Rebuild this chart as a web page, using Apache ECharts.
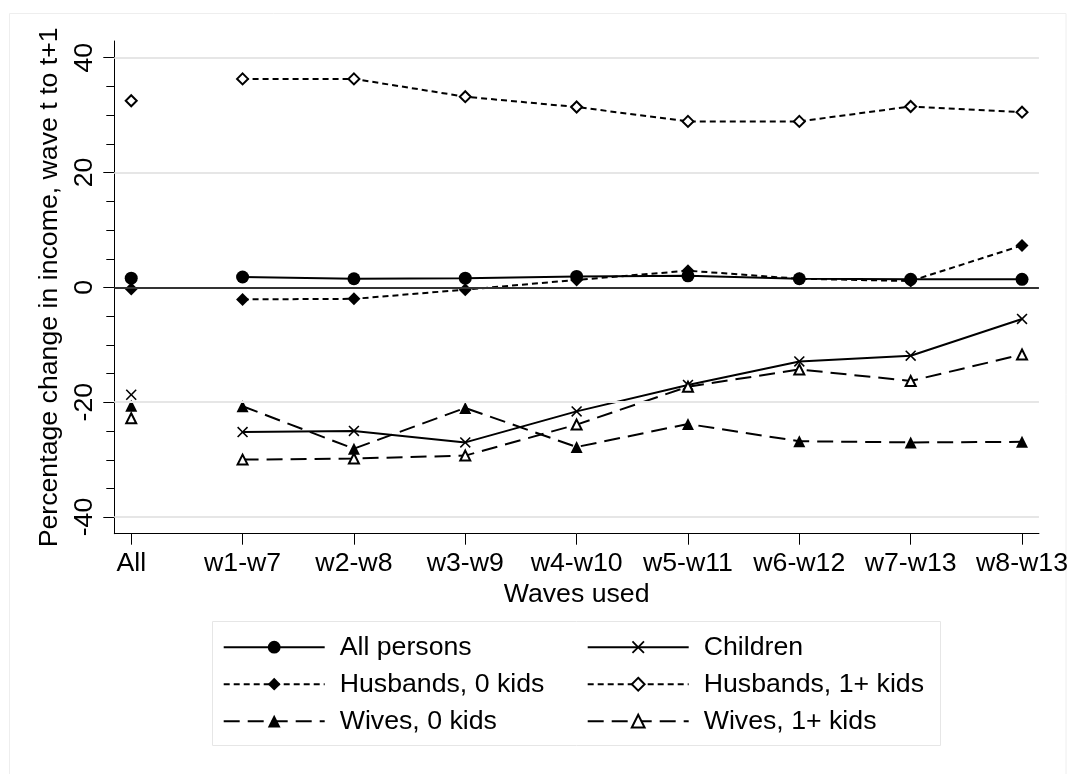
<!DOCTYPE html>
<html>
<head>
<meta charset="utf-8">
<script src="https://cdn.jsdelivr.net/npm/echarts@6/dist/echarts.min.js"></script>
<style>
html,body{margin:0;padding:0;background:#fff;}
#chart{width:1071px;height:774px;}
</style>
</head>
<body>
<div id="chart"></div>
<script>
// ---- data ----
const categories = ['All','w1-w7','w2-w8','w3-w9','w4-w10','w5-w11','w6-w12','w7-w13','w8-w13'];
const allPersons   = [1.6, 1.8, 1.5, 1.6, 1.9, 2.0, 1.5, 1.4, 1.4];
const children     = [-18.7, -25.2, -25.0, -27.0, -21.6, -17.0, -12.9, -11.9, -5.5];
const husbands0    = [-0.3, -2.1, -2.0, -0.4, 1.3, 2.9, 1.5, 1.1, 7.3];
const husbands1    = [32.5, 36.3, 36.3, 33.2, 31.4, 28.9, 28.9, 31.5, 30.5];
const wives0       = [-20.6, -20.7, -28.1, -21.0, -27.8, -23.8, -26.8, -27.0, -26.9];
const wives1       = [-22.8, -30.0, -29.8, -29.3, -23.9, -17.3, -14.3, -16.3, -11.7];
const yMajorTicks  = [-40, -20, 0, 20, 40];
const yMinorTicks  = [-35, -30, -25, -15, -10, -5, 5, 10, 15, 25, 30, 35];
const gridValues   = [-40, -20, 20, 40];
const seriesNames  = ['All persons','Children','Husbands, 0 kids','Husbands, 1+ kids','Wives, 0 kids','Wives, 1+ kids'];

const FONT = 'Liberation Sans, Arial, Helvetica, sans-serif';
const FS = 26.7;
const X_MIN = -0.152, X_MAX = 8.152;

// "All" point is shown on its own, separate from the connected waves
function toData(arr){
  const d = [[0, arr[0]], [0.5, '-']];
  for (let i = 1; i < arr.length; i++) d.push([i, arr[i]]);
  return d;
}

const crossPath = 'path://M0,1L1,0L5,4L9,0L10,1L6,5L10,9L9,10L5,6L1,10L0,9L4,5Z';

function mk(name, arr, symbol, size, dash, empty){
  return {
    name: name, type: 'line', data: toData(arr),
    symbol: symbol, symbolSize: size, showSymbol: true,
    connectNulls: false, animation: false,
    lineStyle: {color: '#000', width: 2, type: dash},
    itemStyle: empty ? {color: '#000', borderColor: '#000', borderWidth: 2} : {color: '#000', borderWidth: 0},
    emphasis: {disabled: true}
  };
}

const series = [
  mk(seriesNames[0], allPersons, 'circle', 13, 'solid', false),
  mk(seriesNames[1], children, crossPath, 11, 'solid', false),
  mk(seriesNames[2], husbands0, 'diamond', 13, [6,4], false),
  mk(seriesNames[3], husbands1, 'emptyDiamond', 11, [6,4], true),
  mk(seriesNames[4], wives0, 'triangle', 12, [16,8], false),
  mk(seriesNames[5], wives1, 'emptyTriangle', 10, [16,8], true)
];

series[0].markLine = {
  silent: true, symbol: 'none', animation: false,
  label: {show: false},
  data: gridValues.map(v => ({yAxis: v, lineStyle: {color: '#e6e6e6', width: 2, type: 'solid'}}))
        .concat([{yAxis: 0, lineStyle: {color: '#333', width: 2, type: 'solid'}}])
};
series[0].z = 1;

// minor y-axis ticks every 5, placed with the chart's own scale
series.push({
  name: 'minorTicks', type: 'custom', silent: true, animation: false, clip: false,
  data: yMinorTicks.map(v => [X_MIN, v]),
  renderItem: function(params, api){
    const p = api.coord([api.value(0), api.value(1)]);
    const y = Math.round(p[1]) + 0.5;
    return {type: 'line', shape: {x1: p[0] - 8, y1: y, x2: p[0], y2: y},
            style: {stroke: '#000', lineWidth: 1}};
  },
  z: 5
});

const chart = echarts.init(document.getElementById('chart'), null, {renderer: 'canvas'});
chart.setOption({
  backgroundColor: '#fff',
  animation: false,
  textStyle: {fontFamily: FONT},
  graphic: [
    {type: 'rect', shape: {x: 9.5, y: 13.5, width: 1056.5, height: 800}, style: {fill: 'none', stroke: '#eeeeee', lineWidth: 1}, silent: true, z: -10},
    {type: 'rect', shape: {x: 212.5, y: 621.5, width: 728, height: 124}, style: {fill: 'none', stroke: '#e6e6e6', lineWidth: 1}, silent: true, z: -10}
  ],
  grid: {left: 114.3, right: 32, top: 41, bottom: 240.3, containLabel: false},
  xAxis: {
    type: 'value', min: X_MIN, max: X_MAX,
    name: 'Waves used', nameLocation: 'middle', nameGap: 43,
    nameTextStyle: {fontSize: FS, color: '#000', fontFamily: FONT},
    axisLine: {show: true, onZero: false, lineStyle: {color: '#000', width: 1}},
    axisTick: {show: true, length: 11, customValues: categories.map((c, i) => i), lineStyle: {color: '#000', width: 1}},
    axisLabel: {show: true, customValues: categories.map((c, i) => i), margin: 16,
      formatter: v => categories[Math.round(v)], fontSize: FS, color: '#000', fontFamily: FONT},
    splitLine: {show: false}
  },
  yAxis: {
    type: 'value', min: -42.9, max: 42.9, position: 'left',
    name: 'Percentage change in income, wave t to t+1', nameLocation: 'middle', nameGap: 45,
    nameTextStyle: {fontSize: FS, color: '#000', fontFamily: FONT},
    axisLine: {show: true, onZero: false, lineStyle: {color: '#000', width: 1}},
    axisTick: {show: true, length: 11, customValues: yMajorTicks, lineStyle: {color: '#000', width: 1}},
    axisLabel: {show: true, customValues: yMajorTicks, rotate: 90, margin: 16, fontSize: FS, color: '#000', fontFamily: FONT},
    splitLine: {show: false}
  },
  legend: [{
    orient: 'vertical', left: 222.7, top: 633.7, padding: 0,
    itemWidth: 101, itemHeight: 16, itemGap: 10,
    data: [seriesNames[0], seriesNames[2], seriesNames[4]],
    textStyle: {fontSize: FS, color: '#000', fontFamily: FONT, padding: [0, 0, 0, 10]},
    selectedMode: false
  }, {
    orient: 'vertical', left: 586.7, top: 633.7, padding: 0,
    itemWidth: 101, itemHeight: 16, itemGap: 10,
    data: [seriesNames[1], seriesNames[3], seriesNames[5]],
    textStyle: {fontSize: FS, color: '#000', fontFamily: FONT, padding: [0, 0, 0, 10]},
    selectedMode: false
  }],
  series: series
});
</script>
</body>
</html>
